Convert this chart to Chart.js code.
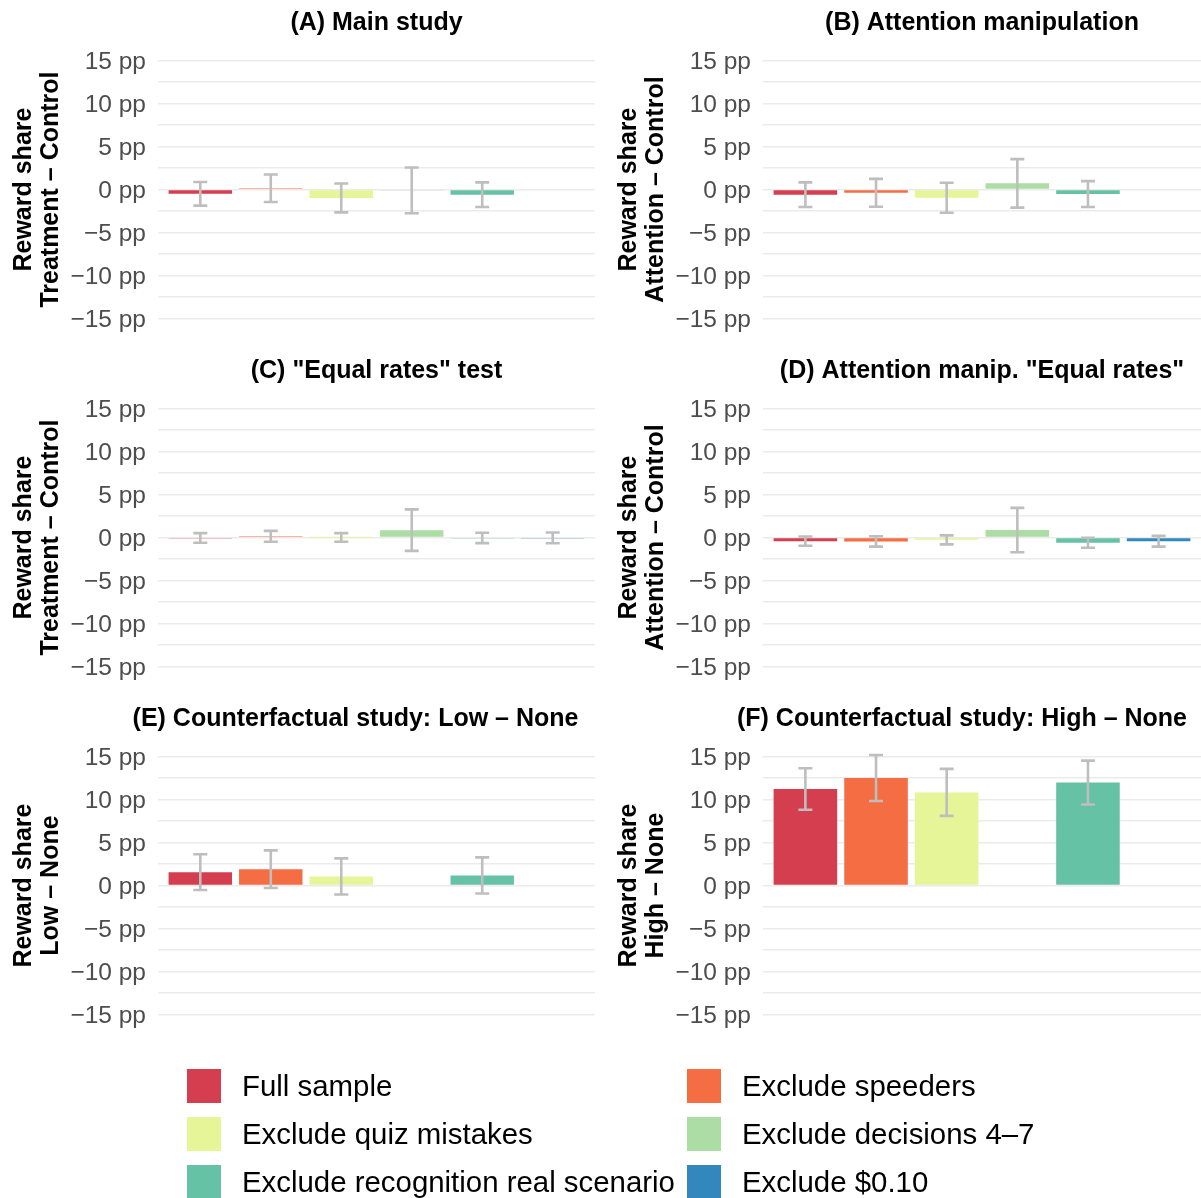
<!DOCTYPE html>
<html>
<head>
<meta charset="utf-8">
<script src="https://cdn.jsdelivr.net/npm/chart.js@4.4.1/dist/chart.umd.min.js"></script>
<style>
  html, body { margin:0; padding:0; background:#fff; width:1201px; height:1198px; overflow:hidden; }
  .panel { position:absolute; }
  #legend { position:absolute; left:0; top:0; width:1201px; height:1198px; pointer-events:none; }
  .li { position:absolute; display:flex; align-items:center; height:34px; font-family:"Liberation Sans", Arial, sans-serif; font-size:29.4px; color:#000; white-space:nowrap; }
  .sw { width:34px; height:34px; margin-right:21px; }
</style>
</head>
<body>
<div id="wrap"></div>
<div id="legend"></div>
<script>
// ---- data ----
const seriesNames = ["Full sample", "Exclude speeders", "Exclude quiz mistakes", "Exclude decisions 4\u20137", "Exclude recognition real scenario", "Exclude $0.10"];
const seriesColors = ["#D53E4F", "#F46D43", "#E6F598", "#ABDDA4", "#66C2A5", "#3288BD"];

const panelTitles = ["(A) Main study", "(B) Attention manipulation", "(C) \"Equal rates\" test", "(D) Attention manip. \"Equal rates\"", "(E) Counterfactual study: Low \u2013 None", "(F) Counterfactual study: High \u2013 None"];
const panelYTitles = [
  ["Reward share", "Treatment \u2013 Control"],
  ["Reward share", "Attention \u2013 Control"],
  ["Reward share", "Treatment \u2013 Control"],
  ["Reward share", "Attention \u2013 Control"],
  ["Reward share", "Low \u2013 None"],
  ["Reward share", "High \u2013 None"]
];

// estimate (pp) per series, and half-width of the error bar (pp)
const panelA = [-0.50, 0.15, -0.97, -0.10, -0.60, null];
const panelAErr = [1.37, 1.60, 1.68, 2.66, 1.43, null];
const panelB = [-0.60, -0.38, -0.95, 0.72, -0.52, null];
const panelBErr = [1.43, 1.62, 1.74, 2.82, 1.50, null];
const panelC = [-0.05, 0.15, 0.02, 0.86, -0.05, -0.04];
const panelCErr = [0.56, 0.63, 0.50, 2.41, 0.60, 0.63];
const panelD = [-0.42, -0.45, -0.27, 0.87, -0.60, -0.43];
const panelDErr = [0.54, 0.60, 0.52, 2.58, 0.58, 0.62];
const panelE = [1.56, 1.90, 1.06, null, 1.17, null];
const panelEErr = [2.07, 2.19, 2.10, null, 2.10, null];
const panelF = [11.22, 12.50, 10.83, null, 11.97, null];
const panelFErr = [2.41, 2.67, 2.73, null, 2.55, null];

const yTickValues = [-15, -10, -5, 0, 5, 10, 15];

const panelValues = [panelA, panelB, panelC, panelD, panelE, panelF];
const panelErrors = [panelAErr, panelBErr, panelCErr, panelDErr, panelEErr, panelFErr];

// ---- drawing ----
const FONT = '"Liberation Sans", Arial, sans-serif';
const titleShift = [0, 0, 0, 0, -21, -20];

const errorBarPlugin = {
  id: 'errbars',
  afterDatasetsDraw(chart) {
    const errs = chart.options.plugins.errbars.errors;
    const vals = chart.data.datasets[0].data;
    const xs = chart.scales.x, ys = chart.scales.y;
    const ctx = chart.ctx;
    ctx.save();
    ctx.strokeStyle = '#BEBEBE';
    ctx.lineWidth = 2.6;
    ctx.lineCap = 'butt';
    vals.forEach((p) => {
      const e = errs[p.x - 1];
      if (p.y === null || e === null || e === undefined) return;
      const x = xs.getPixelForValue(p.x);
      const yt = ys.getPixelForValue(p.y + e);
      const yb = ys.getPixelForValue(p.y - e);
      ctx.beginPath();
      ctx.moveTo(x, yt); ctx.lineTo(x, yb);
      ctx.moveTo(x - 7, yt); ctx.lineTo(x + 7, yt);
      ctx.moveTo(x - 7, yb); ctx.lineTo(x + 7, yb);
      ctx.stroke();
    });
    ctx.restore();
  }
};

const panelTitlePlugin = {
  id: 'ptitle',
  afterDraw(chart) {
    const o = chart.options.plugins.ptitle;
    const ca = chart.chartArea;
    const ctx = chart.ctx;
    ctx.save();
    ctx.font = 'bold 25px ' + FONT;
    ctx.fillStyle = '#000';
    ctx.textAlign = 'center';
    ctx.textBaseline = 'middle';
    ctx.fillText(o.text, (ca.left + ca.right) / 2 + o.shift, 23);
    ctx.restore();
  }
};

function fmt(v) {
  if (!yTickValues.includes(v)) return '';
  return (v < 0 ? '\u2212' + Math.abs(v) : String(v)) + ' pp';
}

const wrap = document.getElementById('wrap');
for (let k = 0; k < 6; k++) {
  const col = k % 2, row = Math.floor(k / 2);
  const left = col === 0 ? 0 : 605;
  const width = col === 0 ? 600 : 596;
  const div = document.createElement('div');
  div.className = 'panel';
  div.style.left = left + 'px';
  div.style.top = (row * 348) + 'px';
  div.style.width = width + 'px';
  div.style.height = '348px';
  const cv = document.createElement('canvas');
  div.appendChild(cv);
  wrap.appendChild(div);

  const vals = panelValues[k];
  const data = vals.map((v, i) => ({ x: i + 1, y: v }));

  new Chart(cv, {
    type: 'bar',
    data: {
      datasets: [{
        data: data,
        backgroundColor: seriesColors,
        borderWidth: 0,
        categoryPercentage: 1.0,
        barPercentage: 0.9
      }]
    },
    options: {
      responsive: true,
      maintainAspectRatio: false,
      animation: false,
      events: [],
      layout: { padding: { left: 0, right: col === 0 ? 5 : 0, top: 60.5, bottom: 29.4 } },
      plugins: {
        legend: { display: false },
        tooltip: { enabled: false },
        title: { display: false },
        ptitle: { text: panelTitles[k], shift: titleShift[k] },
        errbars: { errors: panelErrors[k] }
      },
      scales: {
        x: {
          type: 'linear',
          min: 0.4,
          max: 6.6,
          offset: false,
          display: false,
          afterBuildTicks(s) { s.ticks = seriesNames.map((n, i) => ({ value: i + 1 })); }
        },
        y: {
          min: -15,
          max: 15,
          afterFit(s) { s.width = 158; },
          border: { display: false },
          grid: { color: '#EBEBEB', lineWidth: 1.4, drawTicks: false },
          ticks: {
            stepSize: 2.5,
            autoSkip: false,
            padding: 12,
            labelOffset: 2,
            color: '#4D4D4D',
            font: { family: FONT, size: 24.5 },
            callback: (v) => fmt(v)
          },
          title: {
            display: true,
            text: panelYTitles[k],
            color: '#000',
            font: { family: FONT, size: 25, weight: 'bold', lineHeight: 1.06 },
            padding: { top: 11, bottom: 0 }
          }
        }
      }
    },
    plugins: [errorBarPlugin, panelTitlePlugin]
  });
}

// ---- legend ----
const legend = document.getElementById('legend');
seriesNames.forEach((name, i) => {
  const col = i % 2, row = Math.floor(i / 2);
  const d = document.createElement('div');
  d.className = 'li';
  d.style.left = (col === 0 ? 187 : 687) + 'px';
  d.style.top = (1069 + row * 48) + 'px';
  const sw = document.createElement('div');
  sw.className = 'sw';
  sw.style.background = seriesColors[i];
  const t = document.createElement('span');
  t.textContent = name;
  d.appendChild(sw);
  d.appendChild(t);
  legend.appendChild(d);
});
</script>
</body>
</html>
